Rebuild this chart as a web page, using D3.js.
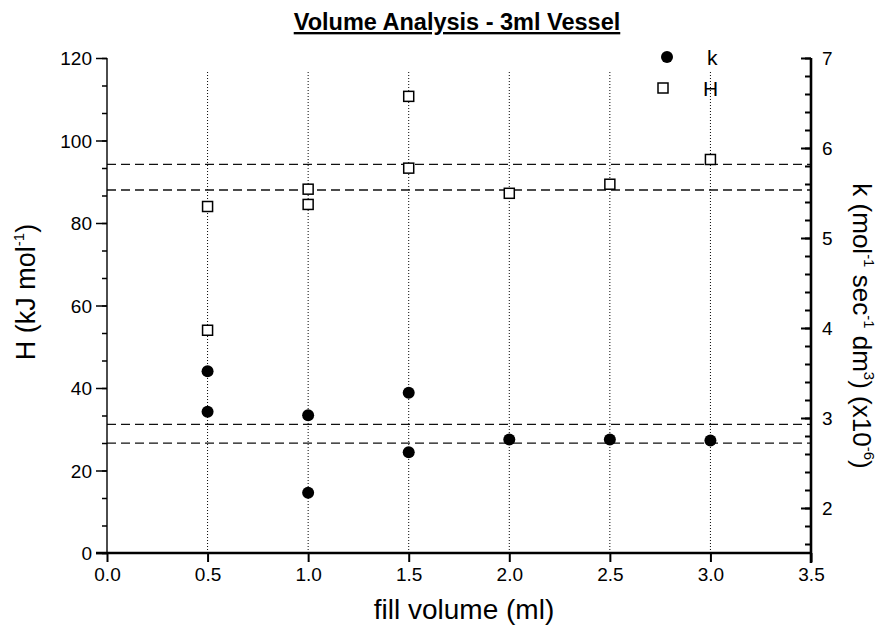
<!DOCTYPE html>
<html>
<head>
<meta charset="utf-8">
<script src="https://cdn.jsdelivr.net/npm/d3@7"></script>
<style>
  body { margin: 0; background: #fff; }
  svg { font-family: "Liberation Sans", Arial, Helvetica, sans-serif; }
</style>
</head>
<body>
<div id="chart"></div>
<script>
// fill volume (ml) for each measurement
const hVolume = [0.5, 0.5, 1.0, 1.0, 1.5, 1.5, 2.0, 2.5, 3.0];
const hValues = [84.0, 54.0, 88.2, 84.5, 110.7, 93.3, 87.2, 89.4, 95.4];
const kVolume = [0.5, 0.5, 1.0, 1.0, 1.5, 1.5, 2.0, 2.5, 3.0];
const kValues = [3.52, 3.07, 3.03, 2.17, 3.28, 2.62, 2.76, 2.76, 2.75];

// dashed limit lines
const hLimits = [94.2, 88.0];
const kLimits = [2.93, 2.72];

// dotted verticals
const gridVolumes = [0.5, 1.0, 1.5, 2.0, 2.5, 3.0];
const gridTopH = 116.6;

const xTicks = [0, 0.5, 1.0, 1.5, 2.0, 2.5, 3.0, 3.5];
const hTicks = [0, 20, 40, 60, 80, 100, 120];
const kTicks = [2, 3, 4, 5, 6, 7];

var width = 881, height = 626;
var plotL = 107, plotR = 811, plotT = 58, plotB = 553;

const svg = d3.select("#chart")
    .append("svg")
    .attr("width", width)
    .attr("height", height);

var x = d3.scaleLinear().domain([0, 3.5]).range([plotL, plotR]);
var yH = d3.scaleLinear().domain([0, 120]).range([plotB, plotT]);
var yK = d3.scaleLinear().domain([1.5, 7]).range([plotB, plotT]);

// title
svg.append("text")
    .text("Volume Analysis - 3ml Vessel")
    .attr("x", 457)
    .attr("y", 30)
    .attr("text-anchor", "middle")
    .style("font-size", "23.5px")
    .style("font-weight", "bold")
    .style("text-decoration", "underline");

// dotted verticals
svg.selectAll(".vgrid")
    .data(gridVolumes)
    .enter()
    .append("line")
    .attr("class", "vgrid")
    .attr("x1", (d) => x(d))
    .attr("x2", (d) => x(d))
    .attr("y1", yH(gridTopH))
    .attr("y2", yH(0))
    .attr("stroke", "#000")
    .attr("stroke-width", 1)
    .attr("stroke-dasharray", "1,2");

// dashed limits
svg.selectAll(".hlim")
    .data(hLimits)
    .enter()
    .append("line")
    .attr("x1", plotL).attr("x2", plotR)
    .attr("y1", (d) => yH(d)).attr("y2", (d) => yH(d))
    .attr("stroke", "#111").attr("stroke-width", 1.3)
    .attr("stroke-dasharray", "9,5");

svg.selectAll(".klim")
    .data(kLimits)
    .enter()
    .append("line")
    .attr("x1", plotL).attr("x2", plotR)
    .attr("y1", (d) => yK(d)).attr("y2", (d) => yK(d))
    .attr("stroke", "#111").attr("stroke-width", 1.3)
    .attr("stroke-dasharray", "9,5");

// axes
function styleAxis(g, w) {
    g.select(".domain").remove();
    g.selectAll(".tick line").attr("stroke-width", w);
    g.selectAll("text").style("font-size", "19px").attr("fill", "#000");
}

// left minor
svg.append("g")
    .attr("transform", "translate(" + plotL + ",0)")
    .call(d3.axisLeft(yH).tickValues(d3.range(0, 121, 20 / 3)).tickSize(5).tickFormat(""))
    .call(styleAxis, 1.5);
svg.append("g")
    .attr("transform", "translate(" + plotL + ",0)")
    .call(d3.axisLeft(yH).tickValues(hTicks).tickSize(11).tickPadding(4))
    .call(styleAxis, 1.5)
    .selectAll("text").attr("dy", "0.36em");

// right minor
svg.append("g")
    .attr("transform", "translate(" + plotR + ",0)")
    .call(d3.axisRight(yK).tickValues(d3.range(1.6, 7.01, 0.2)).tickSize(-6).tickFormat(""))
    .call(styleAxis, 2);
svg.append("g")
    .attr("transform", "translate(" + plotR + ",0)")
    .call(d3.axisRight(yK).tickValues(kTicks).tickSize(-10).tickPadding(11).tickFormat(d3.format("d")))
    .call(styleAxis, 2)
    .selectAll("text").attr("dy", "0.36em");

// bottom
svg.append("g")
    .attr("transform", "translate(0," + plotB + ")")
    .call(d3.axisBottom(x).tickValues(xTicks).tickSize(9).tickPadding(6).tickFormat(d3.format(".1f")))
    .call(styleAxis, 2)
    .selectAll("text").attr("dy", "0.71em");

// axis lines
svg.append("line")
    .attr("x1", plotL).attr("x2", plotL).attr("y1", plotT).attr("y2", plotB)
    .attr("stroke", "#000").attr("stroke-width", 1.4);
svg.append("line")
    .attr("x1", plotL - 11).attr("x2", plotR + 1).attr("y1", plotB).attr("y2", plotB)
    .attr("stroke", "#000").attr("stroke-width", 2.6);
svg.append("line")
    .attr("x1", plotR).attr("x2", plotR).attr("y1", plotT).attr("y2", plotB + 10)
    .attr("stroke", "#000").attr("stroke-width", 2.6);

// H squares
var sq = 10;
svg.selectAll(".hpt")
    .data(hValues)
    .enter()
    .append("rect")
    .attr("class", "hpt")
    .attr("x", (d, i) => x(hVolume[i]) - sq / 2)
    .attr("y", (d) => yH(d) - sq / 2)
    .attr("width", sq).attr("height", sq)
    .attr("fill", "#fff").attr("stroke", "#000").attr("stroke-width", 1.5);

// k circles
svg.selectAll(".kpt")
    .data(kValues)
    .enter()
    .append("circle")
    .attr("class", "kpt")
    .attr("cx", (d, i) => x(kVolume[i]))
    .attr("cy", (d) => yK(d))
    .attr("r", 6)
    .attr("fill", "#000");

// legend
svg.append("circle").attr("cx", 667).attr("cy", 57).attr("r", 6).attr("fill", "#000");
svg.append("rect").attr("x", 658).attr("y", 83).attr("width", sq).attr("height", sq)
    .attr("fill", "#fff").attr("stroke", "#000").attr("stroke-width", 1.5);
svg.append("text").text("k").attr("x", 707).attr("y", 65).style("font-size", "21px");
svg.append("text").text("H").attr("x", 703).attr("y", 96).style("font-size", "21px");

// axis titles
svg.append("text")
    .text("fill volume (ml)")
    .attr("x", 464)
    .attr("y", 619)
    .attr("text-anchor", "middle")
    .style("font-size", "28px");

var lt = svg.append("text")
    .attr("transform", "translate(35,292) rotate(-90)")
    .attr("text-anchor", "middle")
    .style("font-size", "27px");
lt.append("tspan").text("H (kJ mol");
lt.append("tspan").text("-1").attr("dy", -11).style("font-size", "15px");
lt.append("tspan").text(")").attr("dy", 11);

var rt = svg.append("text")
    .attr("transform", "translate(853,326) rotate(90)")
    .attr("text-anchor", "middle")
    .style("font-size", "26px");
rt.append("tspan").text("k (mol");
rt.append("tspan").text("-1").attr("dy", -11).style("font-size", "15px");
rt.append("tspan").text(" sec").attr("dy", 11);
rt.append("tspan").text("-1").attr("dy", -11).style("font-size", "15px");
rt.append("tspan").text(" dm").attr("dy", 11);
rt.append("tspan").text("3").attr("dy", -11).style("font-size", "15px");
rt.append("tspan").text(") (x10").attr("dy", 11);
rt.append("tspan").text("-6").attr("dy", -11).style("font-size", "15px");
rt.append("tspan").text(")").attr("dy", 11);
</script>
</body>
</html>
